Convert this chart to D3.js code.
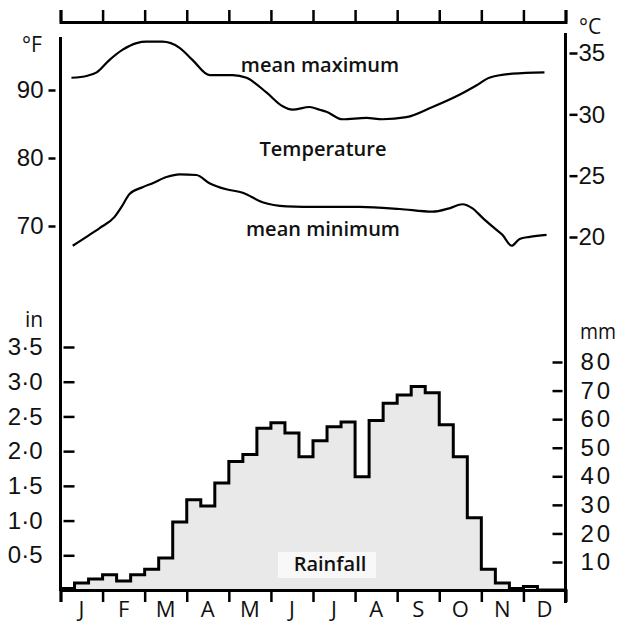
<!DOCTYPE html>
<html>
<head>
<meta charset="UTF-8">
<script src="https://d3js.org/d3.v7.min.js"></script>
<style>
    html, body {
        margin: 0;
        padding: 0;
        background-color: #fff;
    }
    svg {
        display: block;
        font-family: 'Open Sans', sans-serif;
    }
    .num { font-size: 24px; font-weight: 500; fill: #111; }
    .mon { font-size: 22px; font-weight: 500; fill: #111; }
    .unit { font-size: 21px; font-weight: 500; fill: #111; }
    .lab { font-size: 20px; font-weight: 600; fill: #111; }
</style>
<title>Temperature and rainfall</title>
</head>
<body>
<script>
    var ww = 619;
    var hh = 624;

    var months = ["J", "F", "M", "A", "M", "J", "J", "A", "S", "O", "N", "D"];

    // mean maximum temperature (°F), positions in months from 1 Jan
    var maxMonth = [0.26, 0.64, 0.86, 1.16, 1.47, 1.81, 2.04, 2.42, 2.83, 3.14, 3.54, 4.09, 4.42, 4.90, 5.28,
        5.51, 5.92, 6.16, 6.32, 6.70, 7.27, 7.65, 8.22, 8.84, 9.48, 9.89, 10.19, 10.74, 11.50];
    var maxTemp = [91.8, 92.1, 92.6, 94.4, 95.9, 96.9, 97.1, 97.1, 96.2, 94.4, 92.2, 92.2, 91.8, 89.6, 87.6,
        87.1, 87.5, 87.1, 86.8, 85.7, 85.9, 85.7, 86.0, 87.5, 89.3, 90.7, 91.8, 92.4, 92.6];

    // mean minimum temperature (°F)
    var minMonth = [0.29, 0.69, 0.93, 1.28, 1.45, 1.64, 1.95, 2.19, 2.52, 2.83, 3.23, 3.54, 3.94, 4.33, 4.80,
        5.37, 6.15, 7.11, 8.06, 8.84, 9.24, 9.55, 9.79, 10.03, 10.27, 10.50, 10.72, 10.91, 11.15, 11.55];
    var minTemp = [67.1, 68.7, 69.7, 71.3, 72.8, 74.7, 75.7, 76.3, 77.2, 77.6, 77.5, 76.3, 75.4, 74.9, 73.5,
        72.9, 72.8, 72.8, 72.5, 72.1, 72.6, 73.2, 72.6, 71.2, 69.9, 68.7, 67.1, 68.1, 68.4, 68.7];

    // rainfall for each ten-day period (inches), 3 per month
    var rainfall = [0.02, 0.10, 0.16, 0.22, 0.13, 0.22, 0.30, 0.46, 0.98,
        1.30, 1.21, 1.54, 1.85, 1.95, 2.33, 2.41, 2.26, 1.92,
        2.15, 2.35, 2.42, 1.63, 2.44, 2.69, 2.81, 2.93, 2.84,
        2.38, 1.92, 1.04, 0.30, 0.10, 0.02, 0.05, 0, 0];

    var fTicks = [70, 80, 90];
    var cTicks = [20, 25, 30, 35];
    var inTicks = [0.5, 1, 1.5, 2, 2.5, 3, 3.5];
    var mmTicks = [10, 20, 30, 40, 50, 60, 70, 80];

    var x = d3.scaleLinear().domain([0, 12]).range([60.5, 565.5]);
    var xd = d3.scaleLinear().domain([0, 36]).range([60.5, 565.5]);
    var yF = d3.scaleLinear().domain([70, 90]).range([226, 90]);
    var yC = d3.scaleLinear().domain([20, 35]).range([237, 53]);
    var yIn = d3.scaleLinear().domain([0, 3.5]).range([590, 347]);
    var yMm = d3.scaleLinear().domain([0, 80]).range([590.6, 362]);

    var svg = d3.select("body").append("svg").attr("width", ww).attr("height", hh);

    // rainfall steps
    var steps = rainfall.map(function(v, i) { return [i, v]; });
    steps.push([36, rainfall[35]]);
    svg.append("path").datum(steps)
        .attr("d", d3.area().curve(d3.curveStepAfter)
            .x(function(d) { return xd(d[0]); })
            .y0(yIn(0)).y1(function(d) { return yIn(d[1]); }))
        .attr("fill", "#e9e9e9");
    svg.append("rect").attr("x", 278).attr("y", 552).attr("width", 98).attr("height", 26).attr("fill", "#f8f8f8");
    svg.append("path").datum(steps)
        .attr("d", d3.line().curve(d3.curveStepAfter)
            .x(function(d) { return xd(d[0]); })
            .y(function(d) { return yIn(d[1]); }))
        .attr("fill", "none").attr("stroke", "#000").attr("stroke-width", 3);

    // temperature curves
    var tline = d3.line().curve(d3.curveMonotoneX)
        .x(function(d) { return x(d[0]); })
        .y(function(d) { return yF(d[1]); });
    svg.append("path").datum(d3.zip(maxMonth, maxTemp)).attr("d", tline)
        .attr("fill", "none").attr("stroke", "#000").attr("stroke-width", 2.2);
    svg.append("path").datum(d3.zip(minMonth, minTemp)).attr("d", tline)
        .attr("fill", "none").attr("stroke", "#000").attr("stroke-width", 2.2);

    // frame lines
    svg.append("line").attr("x1", 60.5).attr("x2", 60.5).attr("y1", 37).attr("y2", 591)
        .attr("stroke", "#000").attr("stroke-width", 3);
    svg.append("line").attr("x1", 565.5).attr("x2", 565.5).attr("y1", 33).attr("y2", 603)
        .attr("stroke", "#000").attr("stroke-width", 3);

    // top and bottom month axes
    var topAxis = svg.append("g").attr("transform", "translate(0,22)")
        .call(d3.axisTop(x).tickValues(d3.range(13)).tickSize(12).tickFormat(""));
    var botAxis = svg.append("g").attr("transform", "translate(0,590)")
        .call(d3.axisBottom(x).tickValues(d3.range(13)).tickSize(12).tickFormat(""));
    [topAxis, botAxis].forEach(function(g) {
        g.select(".domain").attr("stroke-width", 3);
        g.selectAll(".tick line").attr("stroke-width", 2.5);
    });
    svg.selectAll(".mon").data(months).enter().append("text")
        .attr("class", "mon")
        .attr("x", function(d, i) { return x(i + 0.5); })
        .attr("y", 617)
        .attr("text-anchor", "middle")
        .text(function(d) { return d; });

    // temperature axes
    svg.append("g").attr("transform", "translate(60.5,0)")
        .call(d3.axisLeft(yF).tickValues(fTicks).tickSize(0).tickPadding(17))
        .call(function(g) {
            g.select(".domain").remove();
            g.selectAll(".tick line").attr("x1", -5).attr("x2", -12).attr("stroke-width", 2.5);
            g.selectAll(".tick text").attr("class", "num");
        });
    svg.append("g").attr("transform", "translate(565.5,0)")
        .call(d3.axisRight(yC).tickValues(cTicks).tickSize(0).tickPadding(13))
        .call(function(g) {
            g.select(".domain").remove();
            g.selectAll(".tick line").attr("x1", 4).attr("x2", 12).attr("stroke-width", 2.5);
            g.selectAll(".tick text").attr("class", "num");
        });

    // rainfall axes
    svg.append("g").attr("transform", "translate(60.5,0)")
        .call(d3.axisLeft(yIn).tickValues(inTicks).tickSize(0).tickPadding(18)
            .tickFormat(function(d) { return d.toFixed(1).replace(".", "·"); }))
        .call(function(g) {
            g.select(".domain").remove();
            g.selectAll(".tick line").attr("x1", 3).attr("x2", 14).attr("stroke-width", 2.5);
            g.selectAll(".tick text").attr("class", "num");
        });
    svg.append("g").attr("transform", "translate(565.5,0)")
        .call(d3.axisRight(yMm).tickValues(mmTicks).tickSize(0).tickPadding(15))
        .call(function(g) {
            g.select(".domain").remove();
            g.selectAll(".tick line").attr("x1", -3).attr("x2", -13).attr("stroke-width", 2.5);
            g.selectAll(".tick text").attr("class", "num").attr("letter-spacing", 3);
        });

    // unit labels
    svg.append("text").attr("class", "unit").attr("x", 22).attr("y", 52).text("°F");
    svg.append("text").attr("class", "unit").attr("x", 579).attr("y", 34).text("°C");
    svg.append("text").attr("class", "unit").attr("x", 25).attr("y", 327).text("in");
    svg.append("text").attr("class", "unit").attr("x", 580).attr("y", 339)
        .attr("textLength", 36).attr("lengthAdjust", "spacingAndGlyphs").text("mm");

    // chart labels
    var labels = [
        { t: "mean maximum", x: 320, y: 72 },
        { t: "Temperature", x: 323, y: 156 },
        { t: "mean minimum", x: 323, y: 236 },
        { t: "Rainfall", x: 330, y: 571 }
    ];
    svg.selectAll(".lab").data(labels).enter().append("text")
        .attr("class", "lab")
        .attr("x", function(d) { return d.x; })
        .attr("y", function(d) { return d.y; })
        .attr("text-anchor", "middle")
        .text(function(d) { return d.t; });
</script>
</body>
</html>
